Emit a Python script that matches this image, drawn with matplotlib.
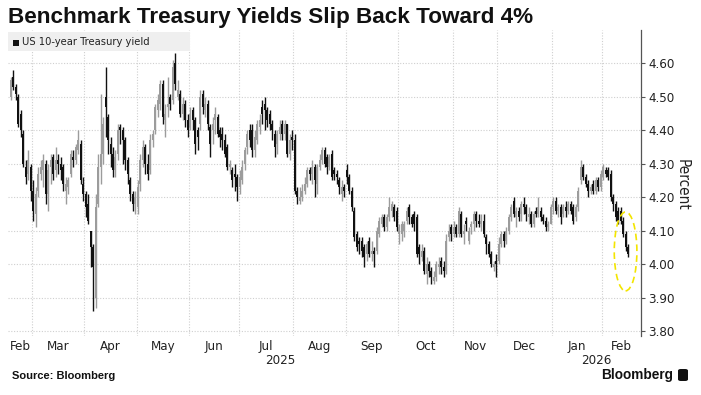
import numpy as np
import matplotlib
matplotlib.use("Agg")
import matplotlib.pyplot as plt
from matplotlib.patches import Ellipse, FancyBboxPatch, Rectangle

# ---------------- data ----------------
months = ["Feb", "Mar", "Apr", "May", "Jun", "Jul", "Aug", "Sep", "Oct", "Nov", "Dec", "Jan", "Feb"]
month_days = [9, 21, 21, 21, 20, 22, 21, 21, 22, 18, 22, 20, 11]   # trading days shown per month
years = ["2025", "2026"]
year_start_month = [0, 11]

opens = [
 4.50,4.56,4.53,4.50,4.45,4.39,4.29,4.27,4.29,
 4.22,4.15,4.22,4.27,4.28,4.30,4.21,4.29,4.32,4.28,4.31,4.30,4.29,4.22,4.23,4.27,4.32,4.31,4.34,4.36,4.24,
 4.21,4.18,4.10,4.05,3.90,4.18,4.29,4.33,4.50,4.44,4.36,4.33,4.28,4.33,4.41,4.40,4.37,4.31,4.25,4.21,4.18,
 4.17,4.24,4.31,4.35,4.30,4.28,4.37,4.40,4.46,4.48,4.54,4.43,4.47,4.50,4.49,4.60,4.50,4.51,4.45,4.48,4.43,
 4.41,4.46,4.43,4.40,4.42,4.51,4.46,4.48,4.41,4.40,4.43,4.44,4.40,4.39,4.37,4.35,4.29,4.28,4.27,4.26,
 4.23,4.25,4.30,4.35,4.40,4.40,4.34,4.37,4.41,4.47,4.48,4.46,4.45,4.42,4.39,4.36,4.39,4.42,4.39,4.42,4.33,4.38,
 4.37,4.22,4.19,4.20,4.22,4.24,4.28,4.27,4.29,4.24,4.29,4.31,4.34,4.32,4.29,4.33,4.28,4.27,4.25,4.21,4.23,
 4.28,4.26,4.22,4.16,4.09,4.07,4.07,4.05,4.03,4.07,4.03,4.04,4.04,4.09,4.12,4.14,4.11,4.14,4.16,4.17,4.16,
 4.09,4.09,4.10,4.13,4.17,4.14,4.15,4.14,4.05,4.02,4.04,3.97,4.00,3.98,3.95,3.96,3.99,4.01,3.99,3.98,4.08,4.11,
 4.09,4.11,4.09,4.15,4.09,4.13,4.07,4.11,4.12,4.15,4.13,4.12,4.13,4.08,4.06,4.03,3.99,4.01,
 4.01,4.06,4.09,4.07,4.10,4.14,4.19,4.14,4.16,4.15,4.18,4.17,4.14,4.15,4.12,4.16,4.15,4.16,4.14,4.13,4.11,4.12,
 4.17,4.19,4.16,4.17,4.15,4.17,4.16,4.18,4.17,4.14,4.17,4.25,4.29,4.26,4.24,4.22,4.24,4.22,4.25,4.23,
 4.26,4.28,4.28,4.27,4.20,4.18,4.16,4.16,4.13,4.09,4.05,
]
closes = [
 4.55,4.53,4.51,4.42,4.40,4.30,4.26,4.31,4.22,
 4.16,4.21,4.27,4.29,4.31,4.21,4.28,4.31,4.27,4.31,4.30,4.28,4.24,4.24,4.25,4.33,4.31,4.35,4.37,4.25,4.21,
 4.17,4.13,4.05,3.99,4.17,4.29,4.33,4.42,4.47,4.37,4.33,4.28,4.32,4.40,4.40,4.37,4.31,4.27,4.21,4.18,4.20,
 4.23,4.31,4.35,4.30,4.27,4.37,4.39,4.47,4.49,4.54,4.44,4.45,4.48,4.48,4.59,4.54,4.52,4.45,4.48,4.43,4.40,
 4.45,4.43,4.36,4.38,4.50,4.47,4.48,4.42,4.36,4.42,4.45,4.39,4.38,4.37,4.33,4.29,4.30,4.25,4.26,4.23,
 4.26,4.29,4.34,4.39,4.37,4.34,4.38,4.42,4.43,4.45,4.46,4.43,4.42,4.40,4.35,4.39,4.41,4.39,4.42,4.33,4.37,4.37,
 4.22,4.20,4.20,4.22,4.24,4.28,4.27,4.29,4.25,4.29,4.31,4.34,4.30,4.29,4.32,4.26,4.27,4.26,4.23,4.23,4.22,
 4.26,4.22,4.17,4.08,4.05,4.06,4.04,4.02,4.06,4.03,4.04,4.03,4.10,4.13,4.14,4.11,4.14,4.17,4.18,4.14,4.11,
 4.11,4.12,4.12,4.16,4.14,4.12,4.12,4.03,4.03,4.04,3.98,4.00,3.98,3.96,3.96,4.00,4.00,3.99,3.98,4.07,4.10,4.09,
 4.11,4.09,4.16,4.09,4.10,4.12,4.10,4.12,4.15,4.13,4.12,4.13,4.09,4.06,4.03,4.00,4.00,4.00,
 4.06,4.09,4.07,4.10,4.14,4.17,4.15,4.16,4.14,4.18,4.17,4.15,4.15,4.12,4.15,4.15,4.17,4.14,4.13,4.11,4.12,4.17,
 4.19,4.16,4.17,4.14,4.17,4.16,4.18,4.16,4.13,4.17,4.22,4.29,4.26,4.24,4.22,4.23,4.22,4.25,4.23,4.27,
 4.29,4.27,4.26,4.20,4.18,4.14,4.13,4.13,4.09,4.05,4.03,
]
highs = [
 4.56,4.58,4.54,4.51,4.46,4.40,4.31,4.34,4.30,
 4.25,4.23,4.29,4.31,4.33,4.31,4.30,4.33,4.33,4.35,4.33,4.32,4.30,4.26,4.26,4.34,4.34,4.36,4.40,4.37,4.26,
 4.22,4.21,4.10,4.06,4.21,4.33,4.51,4.44,4.59,4.45,4.38,4.35,4.34,4.42,4.42,4.41,4.38,4.32,4.26,4.22,4.22,
 4.25,4.33,4.37,4.36,4.33,4.39,4.40,4.48,4.51,4.55,4.55,4.48,4.56,4.51,4.61,4.63,4.55,4.52,4.50,4.49,4.45,
 4.47,4.47,4.44,4.41,4.52,4.52,4.50,4.49,4.42,4.44,4.47,4.45,4.41,4.41,4.39,4.36,4.31,4.29,4.30,4.27,
 4.28,4.31,4.35,4.40,4.42,4.42,4.40,4.43,4.45,4.49,4.50,4.47,4.46,4.43,4.40,4.40,4.43,4.43,4.43,4.42,4.39,4.40,
 4.39,4.23,4.23,4.24,4.26,4.29,4.29,4.31,4.30,4.30,4.33,4.35,4.35,4.33,4.33,4.34,4.29,4.28,4.26,4.25,4.24,
 4.30,4.27,4.23,4.17,4.10,4.08,4.08,4.06,4.07,4.08,4.07,4.05,4.11,4.14,4.15,4.15,4.15,4.20,4.19,4.18,4.17,
 4.12,4.13,4.13,4.17,4.18,4.15,4.16,4.15,4.06,4.06,4.05,4.02,4.01,3.99,3.98,4.01,4.02,4.02,4.01,4.09,4.12,4.12,
 4.13,4.12,4.17,4.16,4.12,4.14,4.11,4.13,4.16,4.16,4.15,4.15,4.15,4.09,4.07,4.04,4.01,4.03,
 4.08,4.10,4.10,4.11,4.15,4.18,4.20,4.17,4.17,4.19,4.20,4.18,4.17,4.16,4.16,4.17,4.20,4.17,4.15,4.14,4.13,4.18,
 4.20,4.20,4.18,4.18,4.18,4.19,4.19,4.19,4.18,4.18,4.23,4.31,4.30,4.27,4.25,4.24,4.25,4.26,4.26,4.28,
 4.30,4.29,4.29,4.28,4.21,4.19,4.17,4.17,4.14,4.10,4.06,
]
lows = [
 4.49,4.52,4.49,4.41,4.38,4.29,4.24,4.25,4.19,
 4.13,4.11,4.20,4.25,4.23,4.18,4.16,4.24,4.25,4.26,4.27,4.25,4.22,4.18,4.21,4.26,4.29,4.30,4.33,4.24,4.19,
 4.14,4.12,3.99,3.86,3.87,4.17,4.24,4.30,4.38,4.33,4.29,4.26,4.26,4.31,4.36,4.30,4.28,4.24,4.19,4.16,4.15,
 4.15,4.22,4.29,4.27,4.25,4.27,4.35,4.39,4.44,4.46,4.42,4.38,4.44,4.46,4.48,4.52,4.49,4.44,4.43,4.41,4.38,
 4.40,4.40,4.33,4.34,4.40,4.45,4.44,4.40,4.32,4.36,4.39,4.38,4.35,4.34,4.32,4.28,4.27,4.23,4.22,4.19,
 4.21,4.24,4.28,4.33,4.35,4.32,4.32,4.36,4.39,4.42,4.40,4.41,4.40,4.37,4.32,4.33,4.37,4.37,4.37,4.32,4.31,4.34,
 4.21,4.18,4.18,4.19,4.21,4.23,4.25,4.24,4.20,4.21,4.28,4.30,4.29,4.27,4.28,4.25,4.25,4.24,4.21,4.19,4.20,
 4.24,4.21,4.16,4.07,4.04,4.03,4.02,3.99,4.01,4.02,4.01,3.99,4.03,4.08,4.11,4.10,4.10,4.13,4.14,4.13,4.10,
 4.06,4.07,4.08,4.12,4.12,4.11,4.10,4.02,4.00,4.01,3.97,3.94,3.96,3.94,3.94,3.95,3.97,3.97,3.96,3.97,4.07,4.07,
 4.08,4.08,4.08,4.08,4.06,4.10,4.06,4.09,4.10,4.11,4.11,4.10,4.08,4.03,4.02,3.99,3.98,3.96,
 4.00,4.05,4.05,4.06,4.09,4.13,4.14,4.11,4.13,4.13,4.15,4.13,4.12,4.11,4.11,4.14,4.14,4.13,4.12,4.10,4.10,4.12,
 4.15,4.15,4.14,4.12,4.14,4.14,4.15,4.15,4.12,4.13,4.16,4.24,4.25,4.23,4.20,4.21,4.21,4.21,4.22,4.22,
 4.25,4.26,4.25,4.19,4.16,4.13,4.12,4.12,4.08,4.04,4.02,
]
series_name = "US 10-year Treasury yield"
y_ticks = [3.80, 3.90, 4.00, 4.10, 4.20, 4.30, 4.40, 4.50, 4.60]

# ---------------- figure ----------------
W, H = 701, 395
fig = plt.figure(figsize=(W / 100, H / 100), dpi=100)
fig.patch.set_facecolor("white")

def fx(px):
    return px / W

def fy(py):
    return 1 - py / H

ax = fig.add_axes([fx(8), fy(336), fx(641) - fx(8), fy(30) - fy(336)])

o = np.array(opens); c = np.array(closes); h = np.array(highs); l = np.array(lows)
n = len(c)
x = np.arange(n)
up = c >= o
col_up, col_dn = "#9c9c9c", "#111111"
colors = np.where(up, col_up, col_dn)

ax.vlines(x, l, h, colors=colors, linewidth=1.0, zorder=3)
body_bottom = np.minimum(o, c)
body_h = np.maximum(np.abs(c - o), 0.005)
ax.bar(x, body_h, bottom=body_bottom, width=0.8, color=colors, linewidth=0, zorder=4)

# month boundaries
bounds = np.concatenate([[0], np.cumsum(month_days)]) - 0.5
xmin, xmax = -1.2, n - 1 + 5.2
ax.set_xlim(xmin, xmax)
ax.set_ylim(3.785, 4.70)

for b in bounds[1:-1]:
    ax.axvline(b, color="#cfcfcf", linestyle=(0, (1, 1.5)), linewidth=0.8, zorder=1)
for yv in y_ticks:
    ax.axhline(yv, color="#cfcfcf", linestyle=(0, (1, 1.5)), linewidth=0.8, zorder=1)

# month labels at centres of visible month spans
edges = bounds.copy()
edges[0] = xmin
edges[-1] = xmax
centres = (edges[:-1] + edges[1:]) / 2
ax.set_xticks(centres)
ax.set_xticklabels(months, fontsize=9.5, color="#222222", fontfamily="DejaVu Sans", fontstretch="condensed")
ax.tick_params(axis="x", length=0, pad=3)

# year labels, centred on each year's visible span
year_spans = [(xmin, bounds[11]), (bounds[11], xmax)]
for yr, (s0, s1) in zip(years, year_spans):
    ax.text((s0 + s1) / 2, -0.058, yr, transform=ax.get_xaxis_transform(),
            ha="center", va="top", fontsize=9.5, color="#222222", fontfamily="DejaVu Sans",
            fontstretch="condensed")

# y axis on right
ax.yaxis.tick_right()
ax.set_yticks(y_ticks)
ax.set_yticklabels([f"{v:.2f}" for v in y_ticks], fontsize=9.5, color="#222222",
                   fontfamily="DejaVu Sans", fontstretch="condensed")
ax.tick_params(axis="y", direction="out", length=3, width=0.8, color="#555555", pad=2)
for s in ["left", "top", "bottom"]:
    ax.spines[s].set_visible(False)
ax.spines["right"].set_color("#555555")
ax.spines["right"].set_linewidth(0.9)

# highlight ellipse around latest sessions
cx = x[-3:].mean()
cy = lows[-1] + 0.018
ax.add_patch(Ellipse((cx, cy), 9.1, 0.236, fill=False, edgecolor="#f3e500",
                     linestyle=(0, (4, 2.5)), linewidth=1.2, zorder=5))

# legend box
leg_bg = FancyBboxPatch((fx(8), fy(51)), fx(190) - fx(8), fy(32) - fy(51),
                        boxstyle="square,pad=0", transform=fig.transFigure,
                        facecolor="#efefef", edgecolor="none", zorder=0)
fig.patches.append(leg_bg)
fig.patches.append(Rectangle((fx(13.5), fy(45.5)), fx(6), fy(39.5) - fy(45.5),
                             transform=fig.transFigure, facecolor="#111111", edgecolor="none"))
fig.text(fx(22), fy(42), series_name, fontsize=8, color="#222222", va="center", ha="left",
         fontfamily="DejaVu Sans", fontstretch="condensed")

# title
fig.text(fx(8), fy(17), "Benchmark Treasury Yields Slip Back Toward 4%", fontsize=16.2,
         fontweight="bold", color="#111111", va="center", ha="left", fontfamily="Liberation Sans")

# axis title
fig.text(fx(682), fy(185), "Percent", rotation=270, fontsize=11, color="#222222",
         va="center", ha="center", fontfamily="DejaVu Sans", fontstretch="condensed")

# footer
fig.text(fx(12), fy(376), "Source: Bloomberg", fontsize=8, fontweight="bold", color="#111111",
         va="center", ha="left", fontfamily="Liberation Sans")
fig.text(fx(673), fy(375), "Bloomberg", fontsize=9.8, fontweight="bold", color="#111111",
         va="center", ha="right", fontfamily="Liberation Sans")
fig.patches.append(FancyBboxPatch((fx(678), fy(381)), fx(10), fy(369) - fy(381),
                                  boxstyle="round,pad=0,rounding_size=0.004",
                                  transform=fig.transFigure, facecolor="#111111", edgecolor="none"))

fig.savefig("out.png", dpi=100)
